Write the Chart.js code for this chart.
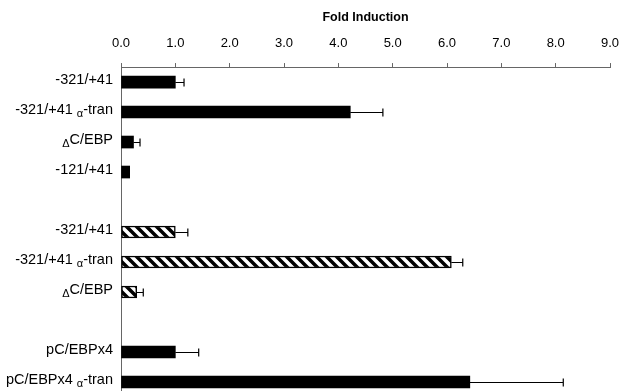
<!DOCTYPE html>
<html>
<head>
<meta charset="utf-8">
<script src="https://cdn.jsdelivr.net/npm/chart.js@4/dist/chart.umd.min.js"></script>
<style>
  html, body { margin: 0; padding: 0; background: #fff; overflow: hidden; }
  #wrap { width: 625px; height: 397px; }
</style>
</head>
<body>
<div id="wrap"><canvas id="myChart" width="625" height="397"></canvas></div>
<script>
// данные
const constructs = ['-321/+41', '-321/+41 α-tran', 'ΔC/EBP', '-121/+41', '',
                    '-321/+41', '-321/+41 α-tran', 'ΔC/EBP', '',
                    'pC/EBPx4', 'pC/EBPx4 α-tran'];
const foldInduction = [1.0, 4.22, 0.23, 0.16, null, 1.0, 6.08, 0.29, null, 1.0, 6.42];
const foldError = [0.16, 0.6, 0.12, 0, null, 0.23, 0.21, 0.12, null, 0.43, 1.72];
const barGroup = ['solid', 'solid', 'solid', 'solid', '', 'hatched', 'hatched', 'hatched', '', 'solid', 'solid'];
const tickLabels = ['0.0', '1.0', '2.0', '3.0', '4.0', '5.0', '6.0', '7.0', '8.0', '9.0'];

const FONT = '"Liberation Sans", Arial, sans-serif';

// штриховка "\\\\"
function makeHatch() {
  const s = 10;
  const c = document.createElement('canvas');
  c.width = s; c.height = s;
  const g = c.getContext('2d');
  g.fillStyle = '#fff';
  g.fillRect(0, 0, s, s);
  g.strokeStyle = '#000';
  g.lineWidth = 3.5;
  g.beginPath();
  g.moveTo(-s, 0); g.lineTo(s, 2 * s);
  g.moveTo(0, 0); g.lineTo(s, s);
  g.moveTo(0, -s); g.lineTo(2 * s, s);
  g.stroke();
  return g.createPattern(c, 'repeat');
}
const hatch = makeHatch();

// подписи категорий: α и Δ мельче и ниже строки
const labelPlugin = {
  id: 'labels',
  afterDraw(chart) {
    const ctx = chart.ctx;
    const y = chart.scales.y;
    const big = 'normal 14.5px ' + FONT;
    const small = 'normal 11px ' + FONT;
    ctx.save();
    ctx.fillStyle = '#000';
    ctx.textBaseline = 'middle';
    ctx.textAlign = 'left';
    constructs.forEach((lab, i) => {
      if (!lab) return;
      const parts = [];
      for (const ch of lab) {
        const sub = (ch === 'α' || ch === 'Δ');
        const last = parts[parts.length - 1];
        if (last && last.sub === sub) last.t += ch;
        else parts.push({ t: ch, sub });
      }
      let w = 0;
      parts.forEach(p => { ctx.font = p.sub ? small : big; p.w = ctx.measureText(p.t).width; w += p.w; });
      let x = 113 - w;
      const yc = y.getPixelForValue(i) - 2.5;
      parts.forEach(p => {
        ctx.font = p.sub ? small : big;
        ctx.fillText(p.t, x, p.sub ? yc + 4 : yc);
        x += p.w;
      });
    });
    ctx.restore();
  }
};

// планки погрешностей
const errorPlugin = {
  id: 'errors',
  afterDatasetsDraw(chart) {
    const ctx = chart.ctx;
    const xs = chart.scales.x, ys = chart.scales.y;
    ctx.save();
    ctx.strokeStyle = '#000';
    ctx.lineWidth = 1.2;
    foldInduction.forEach((v, i) => {
      if (v == null || !foldError[i]) return;
      const x1 = xs.getPixelForValue(v);
      const x2 = xs.getPixelForValue(v + foldError[i]);
      const yc = Math.round(ys.getPixelForValue(i)) + 0.5;
      ctx.beginPath();
      ctx.moveTo(x1, yc); ctx.lineTo(x2, yc);
      ctx.moveTo(x2, yc - 4); ctx.lineTo(x2, yc + 4);
      ctx.stroke();
    });
    ctx.restore();
  }
};

const ctx = document.getElementById('myChart').getContext('2d');
const myChart = new Chart(ctx, {
  type: 'bar',
  data: {
    labels: constructs,
    datasets: [{
      data: foldInduction,
      backgroundColor: barGroup.map(g => g === 'hatched' ? hatch : '#000'),
      borderColor: '#000',
      borderWidth: barGroup.map(g => g === 'hatched' ? 1.5 : 0),
      borderSkipped: false,
      barThickness: 12
    }]
  },
  options: {
    indexAxis: 'y',
    responsive: false,
    animation: false,
    devicePixelRatio: 1,
    layout: { padding: { top: 11.75, right: 15, left: 0, bottom: 0 } },
    plugins: { legend: { display: false }, tooltip: { enabled: false } },
    scales: {
      x: {
        position: 'top',
        min: 0,
        max: 9,
        ticks: {
          stepSize: 1,
          color: '#000',
          padding: 12.9,
          maxRotation: 0,
          font: { family: FONT, size: 13, lineHeight: 1 },
          callback: (v, i) => tickLabels[i]
        },
        grid: { drawOnChartArea: false, drawTicks: true, tickLength: 4, color: '#666' },
        border: { color: '#666' },
        title: {
          display: true,
          text: 'Fold Induction',
          color: '#000',
          font: { family: FONT, size: 12.5, weight: 'bold', lineHeight: 1 },
          padding: { top: 0, bottom: 0 }
        },
        afterFit(scale) { scale.paddingLeft = 0; scale.paddingRight = 0; }
      },
      y: {
        ticks: { display: false },
        grid: { display: false },
        border: { color: '#666' },
        afterFit(scale) { scale.width = 121; }
      }
    }
  },
  plugins: [labelPlugin, errorPlugin]
});
</script>
</body>
</html>
